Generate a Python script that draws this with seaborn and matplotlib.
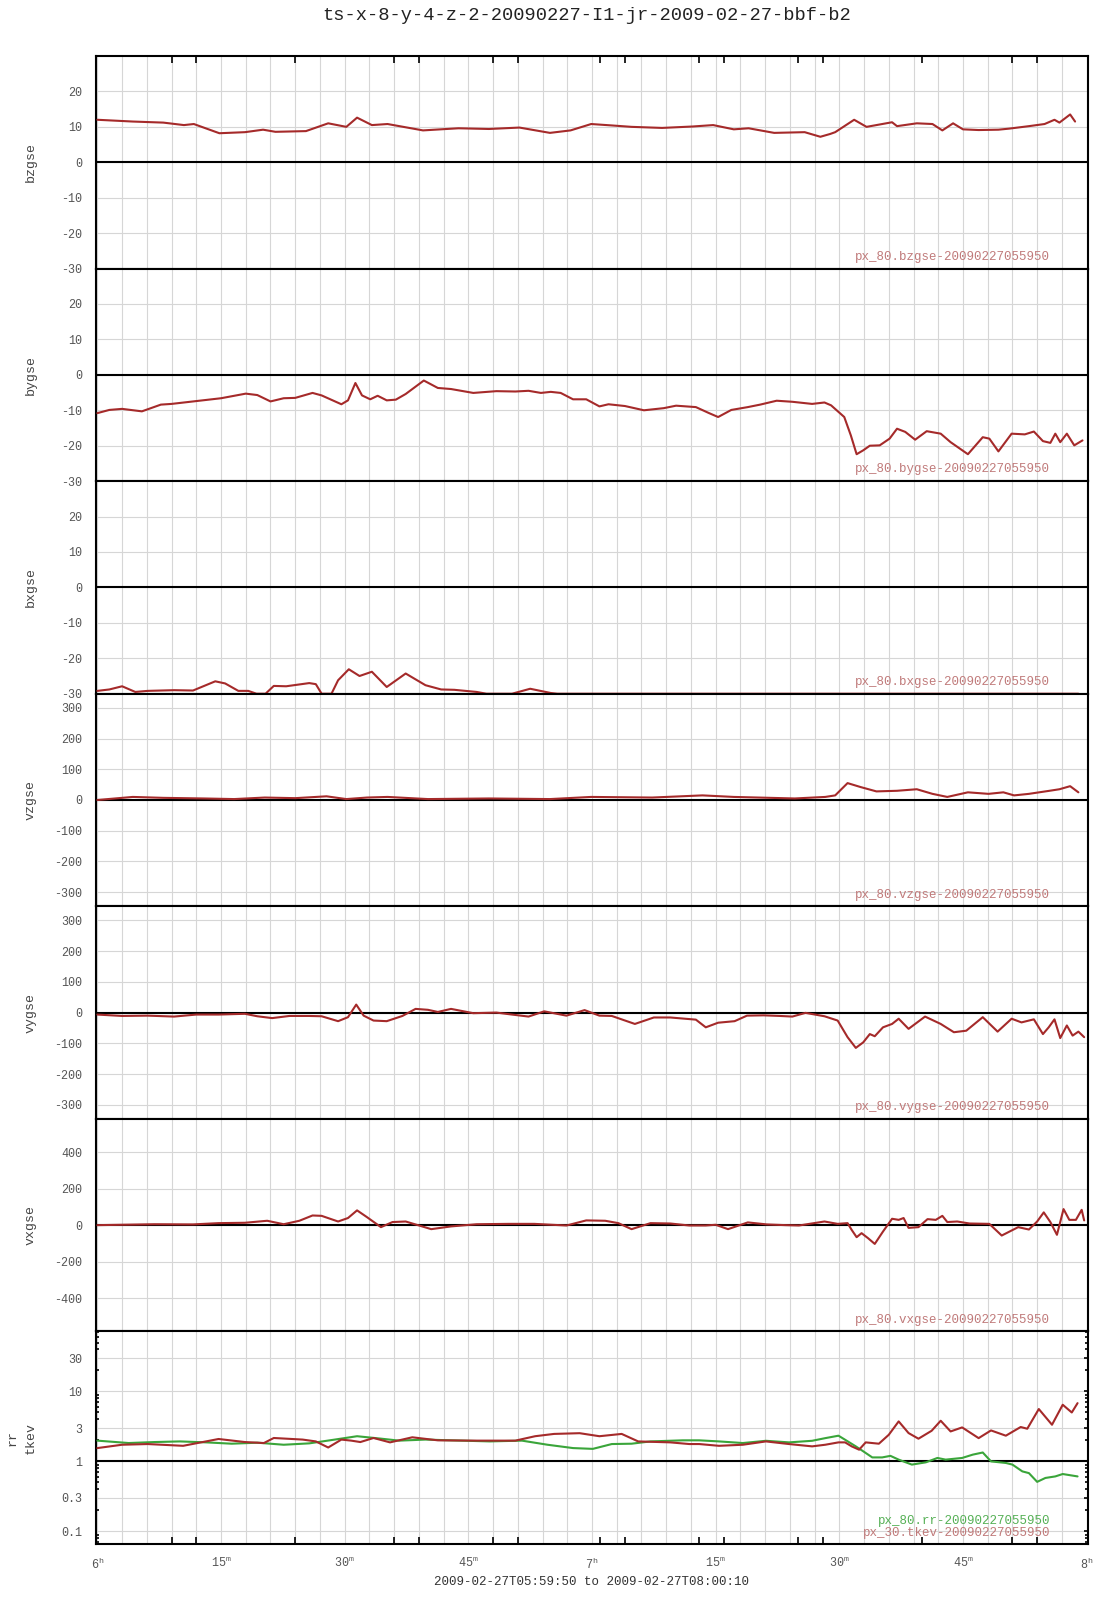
import numpy as np
import pandas as pd
import matplotlib
matplotlib.use('Agg')
import matplotlib.pyplot as plt
import seaborn as sns
from matplotlib.ticker import FixedLocator, FuncFormatter, LogLocator, NullFormatter

# ---------------- data (minutes after 06:00) ----------------
title = "ts-x-8-y-4-z-2-20090227-I1-jr-2009-02-27-bbf-b2"
xlabel = "2009-02-27T05:59:50 to 2009-02-27T08:00:10"

bz_t = [0, 4.3, 8.0, 10.5, 11.7, 14.8, 17.9, 20.1, 21.6, 25.3, 28.0, 30.2, 31.5, 33.3, 35.2, 39.5, 43.8,
        47.5, 51.2, 54.9, 57.4, 59.9, 62.4, 64.8, 68.5, 72.2, 74.7, 77.2, 79.0, 82.1, 85.8, 87.7, 88.9,
        89.5, 91.8, 93.3, 96.4, 97.0, 99.4, 101.3, 102.5, 103.8, 105.0, 106.9, 109.3, 110.6, 113.0,
        114.9, 116.1, 116.7, 118.0, 118.6]
bz_v = [12, 11.5, 11.2, 10.5, 10.8, 8.2, 8.5, 9.2, 8.6, 8.8, 11, 10, 12.6, 10.5, 10.8, 9, 9.6, 9.4, 9.8,
        8.3, 9, 10.8, 10.4, 10, 9.7, 10.1, 10.5, 9.3, 9.6, 8.3, 8.5, 7.2, 8, 8.5, 12, 10, 11.3, 10.2, 11,
        10.8, 9, 11, 9.3, 9.1, 9.2, 9.5, 10.2, 10.8, 12, 11.2, 13.5, 11.5]

by_t = [0, 1.45, 3.0, 5.4, 7.7, 9.0, 12.0, 15.0, 18.0, 19.4, 21.0, 22.6, 24.0, 26.1, 27.2, 29.6, 30.4,
        31.3, 32.1, 33.1, 34.0, 35.1, 36.2, 37.4, 39.6, 41.3, 42.9, 45.6, 48.4, 50.7, 52.3, 53.8, 55.0,
        56.2, 57.7, 59.3, 60.9, 62.0, 64.0, 66.3, 68.7, 70.2, 72.6, 74.2, 75.3, 76.9, 78.9, 80.4, 82.4,
        84.3, 86.7, 88.2, 89.0, 90.6, 91.4, 92.1, 92.9, 93.7, 94.9, 96.1, 97.0, 98.0, 99.2, 100.6, 102.3,
        103.5, 105.6, 107.4, 108.2, 109.3, 110.9, 112.5, 113.6, 114.7, 115.6, 116.2, 116.8, 117.6, 118.5,
        119.5]
by_v = [-10.8, -9.9, -9.6, -10.3, -8.4, -8.2, -7.4, -6.6, -5.3, -5.7, -7.5, -6.6, -6.5, -5.1, -5.8, -8.3,
        -7.2, -2.3, -5.8, -6.9, -5.9, -7.2, -7.0, -5.4, -1.6, -3.7, -4.0, -5.1, -4.6, -4.7, -4.5, -5.1,
        -4.8, -5.1, -6.9, -6.9, -8.9, -8.3, -8.8, -10.0, -9.4, -8.7, -9.1, -10.8, -11.9, -9.9, -9.1, -8.4,
        -7.3, -7.6, -8.2, -7.8, -8.6, -11.9, -17.1, -22.4, -21.3, -20.0, -19.9, -18.0, -15.2, -16.1,
        -18.3, -15.9, -16.6, -19.0, -22.4, -17.6, -18.0, -21.6, -16.6, -16.8, -16.0, -18.7, -19.2,
        -16.6, -19.0, -16.6, -19.9, -18.5]

bx_t = [0, 1.45, 3.0, 4.6, 6.1, 9.3, 11.6, 14.3, 15.5, 17.1, 18.3, 19.3, 20.4, 21.4, 22.9, 25.7, 26.5,
        27.2, 28.4, 29.2, 30.5, 31.8, 33.3, 35.1, 37.4, 39.8, 41.7, 43.3, 46.0, 47.2, 50.3, 52.5, 55.0,
        55.8, 119.0]
bx_v = [-29.2, -28.8, -27.9, -29.5, -29.2, -29.0, -29.1, -26.5, -27.1, -29.2, -29.2, -30, -30, -27.8,
        -27.9, -27.0, -27.3, -30, -30, -26.2, -23.1, -25.0, -23.8, -28.1, -24.3, -27.6, -28.8, -28.9,
        -29.5, -30, -30, -28.6, -29.8, -30, -30]

vz_t = [0, 4.3, 8.0, 12.9, 16.6, 20.3, 24.0, 27.8, 30.2, 32.7, 35.2, 40.1, 47.5, 54.9, 59.9, 67.3, 73.4,
        77.2, 84.6, 88.3, 89.5, 91.0, 92.6, 94.5, 97.0, 99.4, 101.3, 103.1, 105.6, 108.1, 109.9, 111.2,
        113.0, 115.5, 116.7, 118.0, 119.0]
vz_v = [0, 10, 7, 5, 3, 8, 6, 12, 3, 8, 10, 3, 5, 3, 10, 8, 15, 10, 5, 10, 15, 55, 42, 28, 30, 35, 20,
        10, 25, 20, 25, 15, 20, 30, 35, 45, 25]

vy_t = [0, 3.0, 6.1, 9.3, 12.0, 14.7, 17.9, 19.4, 21.2, 23.3, 25.7, 27.2, 29.2, 30.4, 31.4, 32.3, 33.5,
        35.1, 37.0, 38.6, 40.1, 41.3, 42.9, 45.6, 48.4, 50.3, 52.3, 54.2, 56.9, 59.1, 60.9, 62.4, 65.2,
        67.5, 69.5, 72.6, 73.8, 75.3, 77.3, 78.8, 80.8, 82.8, 84.3, 85.9, 88.2, 89.8, 91.0, 92.0, 92.9,
        93.7, 94.3, 95.3, 96.4, 97.2, 98.4, 100.4, 102.3, 103.9, 105.4, 107.4, 109.2, 110.9, 112.1,
        113.6, 114.7, 115.4, 116.1, 116.8, 117.6, 118.3, 119.0, 119.7]
vy_v = [-6.5, -11, -10, -13, -6.5, -6.5, -4, -12, -18, -11, -11, -12, -28, -15, 26, -10, -26, -28, -11,
        12, 9, 2, 12, -2, 0, -6.5, -13, 4, -10, 8, -10, -11, -37, -16, -16, -23, -48, -33, -28, -10, -9,
        -11, -13, -1, -12, -26, -80, -115, -97, -70, -77, -48, -37, -20, -53, -13, -37, -64, -59, -15,
        -62, -20, -32, -22, -70, -48, -22, -83, -42, -75, -62, -80]

vx_t = [0, 6.9, 11.6, 14.7, 17.9, 20.6, 22.6, 24.5, 26.1, 27.2, 29.2, 30.4, 31.5, 32.7, 34.4, 35.8, 37.4,
        40.5, 42.9, 46.0, 49.9, 53.0, 56.9, 59.3, 61.6, 63.2, 64.8, 67.1, 69.5, 71.8, 73.8, 75.0, 76.5,
        78.9, 81.2, 83.5, 85.1, 88.2, 89.8, 91.0, 91.5, 92.1, 92.7, 93.5, 94.3, 95.3, 96.4, 97.2, 97.8,
        98.4, 99.6, 100.7, 101.7, 102.5, 103.1, 104.3, 105.8, 108.2, 109.7, 111.7, 113.0, 114.0, 114.8,
        115.6, 116.4, 117.2, 117.9, 118.7, 119.4, 119.7]
vx_v = [0, 5, 4, 11, 13, 24, 5, 24, 53, 51, 20, 39, 81, 44, -11, 17, 20, -22, -7, 5, 7, 7, -2, 26, 24,
        11, -22, 11, 9, -2, -2, 2, -22, 15, 4, 0, -2, 20, 7, 11, -26, -66, -44, -72, -103, -35, 35, 29,
        39, -15, -11, 33, 29, 51, 17, 20, 9, 7, -57, -11, -24, 20, 70, 17, -53, 88, 29, 29, 84, 26]

tk_t = [0, 3.0, 6.1, 10.4, 14.7, 17.9, 20.2, 21.4, 24.9, 26.5, 28.0, 29.6, 30.8, 31.9, 33.5, 35.5, 38.2,
        41.3, 46.0, 50.7, 53.1, 55.4, 58.5, 60.9, 63.6, 65.6, 69.5, 71.8, 73.0, 75.4, 78.3, 81.1, 83.9,
        86.7, 88.3, 89.9, 90.7, 91.5, 92.4, 93.2, 94.8, 96.0, 97.2, 98.4, 99.6, 101.2, 102.3, 103.5,
        104.9, 106.9, 108.4, 110.2, 112.0, 112.8, 114.2, 115.8, 117.1, 118.2, 118.9]
tk_v = [1.55, 1.73, 1.77, 1.67, 2.09, 1.89, 1.83, 2.16, 2.05, 1.93, 1.58, 2.05, 1.98, 1.89, 2.16, 1.87,
        2.21, 2.0, 1.98, 1.98, 2.29, 2.47, 2.53, 2.29, 2.47, 1.93, 1.87, 1.77, 1.77, 1.67, 1.73, 1.93,
        1.77, 1.64, 1.73, 1.87, 1.87, 1.64, 1.47, 1.87, 1.79, 2.4, 3.73, 2.54, 2.11, 2.74, 3.81, 2.68,
        3.06, 2.15, 2.77, 2.33, 3.1, 2.93, 5.6, 3.34, 6.45, 5.0, 6.8]

rr_t = [0, 3.8, 6.9, 10.0, 13.2, 16.3, 19.4, 22.6, 25.7, 28.8, 31.5, 34.3, 36.6, 39.8, 42.9, 47.6, 51.5,
        54.6, 57.7, 60.1, 62.4, 64.8, 67.1, 71.0, 73.0, 75.4, 78.3, 81.1, 83.9, 86.7, 88.3, 89.9, 90.7,
        92.0, 92.8, 94.0, 95.2, 96.2, 97.2, 98.8, 100.5, 101.9, 102.9, 104.9, 106.2, 107.4, 108.4, 110.2,
        111.0, 112.2, 113.0, 114.0, 115.0, 116.2, 117.1, 118.9]
rr_v = [1.98, 1.83, 1.89, 1.93, 1.87, 1.79, 1.85, 1.73, 1.81, 2.05, 2.29, 2.12, 1.98, 2.05, 2.0, 1.93,
        1.98, 1.73, 1.55, 1.51, 1.77, 1.79, 1.93, 2.0, 2.0, 1.93, 1.83, 1.97, 1.87, 1.97, 2.15, 2.33, 2.04,
        1.64, 1.42, 1.14, 1.14, 1.2, 1.06, 0.9, 0.97, 1.12, 1.06, 1.12, 1.25, 1.34, 1.0, 0.95, 0.9, 0.72,
        0.68, 0.51, 0.58, 0.61, 0.66, 0.61]

panel_names = ["bzgse", "bygse", "bxgse", "vzgse", "vygse", "vxgse"]
panel_labels = ["px_80.bzgse-20090227055950", "px_80.bygse-20090227055950",
                "px_80.bxgse-20090227055950", "px_80.vzgse-20090227055950",
                "px_80.vygse-20090227055950", "px_80.vxgse-20090227055950"]
rr_label = "px_80.rr-20090227055950"
tk_label = "px_30.tkev-20090227055950"

b_ticks = [-30, -20, -10, 0, 10, 20]
v_ticks = [-300, -200, -100, 0, 100, 200, 300]
vx_ticks = [-400, -200, 0, 200, 400]
log_ticks = [0.1, 0.3, 1, 3, 10, 30]
log_ticklabels = ["0.1", "0.3", "1", "3", "10", "30"]

hour_labels = {0: "6^{h}", 60: "7^{h}", 120: "8^{h}"}
minute_marks = [9, 12, 24, 36, 39, 48, 51, 61, 64, 73, 76, 85, 88, 100, 111, 114]

# ---------------- style ----------------
sns.set_style("white")
plt.rcParams['font.family'] = ['Liberation Mono', 'DejaVu Sans']
plt.rcParams['mathtext.fontset'] = 'custom'
plt.rcParams['mathtext.rm'] = 'Liberation Mono'
plt.rcParams['mathtext.it'] = 'Liberation Mono'

RED = '#a52a2a'
GREEN = '#3aa53a'
GRID = '#d6d6d6'
TXT = '#555555'

W, H = 1107, 1600
L, R, T, B = 96, 1088, 56, 1544
fig = plt.figure(figsize=(W / 100, H / 100), dpi=100)
gs = fig.add_gridspec(7, 1, left=L / W, right=R / W, top=1 - T / H, bottom=1 - B / H, hspace=0)
axes = [fig.add_subplot(gs[i]) for i in range(7)]
ph = (B - T) / 7.0

def fmt_x(v, pos):
    m = int(round(v))
    if m % 15 != 0:
        return ""
    if m in hour_labels:
        s = hour_labels[m]
    else:
        s = "%d^{m}" % (m % 60)
    return r"$\mathregular{" + s + "}$"

series = [(bz_t, bz_v), (by_t, by_v), (bx_t, bx_v), (vz_t, vz_v), (vy_t, vy_v), (vx_t, vx_v)]
ylims = [(-30, 30), (-30, 30), (-30, 30), (-346, 346), (-346, 346), (-583, 583)]
yticks = [b_ticks, b_ticks, b_ticks, v_ticks, v_ticks, vx_ticks]

for i, ax in enumerate(axes):
    ax.set_xlim(-10 / 60, 120 + 10 / 60)
    ax.xaxis.remove_overlapping_locs = False
    ax.xaxis.set_major_locator(FixedLocator(np.arange(0, 121, 3)))
    ax.xaxis.set_minor_locator(FixedLocator(minute_marks))
    ax.grid(True, which='major', color=GRID, lw=0.8, zorder=0)
    ax.set_axisbelow(True)
    for s in ax.spines.values():
        s.set_color('black')
        s.set_linewidth(1.5)
    ax.tick_params(axis='x', which='major', length=0, labelsize=8.5, labelcolor=TXT, pad=9)
    ax.tick_params(axis='x', which='minor', direction='in', length=5, width=1.2, color='black',
                   top=(i == 0), bottom=(i == 6))
    ax.tick_params(axis='y', which='major', direction='in', length=3, width=1.2, color='black',
                   labelsize=8.5, labelcolor=TXT, pad=10)
    if i == 6:
        ax.xaxis.set_major_formatter(FuncFormatter(fmt_x))
    else:
        ax.xaxis.set_major_formatter(FuncFormatter(lambda v, p: ""))

# linear panels
for i in range(6):
    ax = axes[i]
    t, v = series[i]
    df = pd.DataFrame({"t": t, "v": v})
    sns.lineplot(data=df, x="t", y="v", ax=ax, color=RED, lw=1.5, estimator=None, sort=False, zorder=3)
    ax.set_ylim(*ylims[i])
    ax.set_yticks(yticks[i])
    ax.set_yticklabels([str(k) for k in yticks[i]])
    ax.axhline(0, color='black', lw=1.5, zorder=2.6)
    ax.set_xlabel("")
    ax.set_ylabel("")
    ax.text(0.962, 0.055, panel_labels[i], transform=ax.transAxes, ha='right', va='center',
            fontsize=9, color='#c07a7a')
    cy = 1 - (T + ph * i + ph / 2) / H
    fig.text(30.6 / W, cy, panel_names[i], rotation=90, ha='center', va='center', fontsize=9.5,
             color='#444444')

# log panel
ax = axes[6]
ax.set_yscale('log')
df_rr = pd.DataFrame({"t": rr_t, "v": rr_v})
df_tk = pd.DataFrame({"t": tk_t, "v": tk_v})
sns.lineplot(data=df_rr, x="t", y="v", ax=ax, color=GREEN, lw=1.5, estimator=None, sort=False, zorder=3)
sns.lineplot(data=df_tk, x="t", y="v", ax=ax, color=RED, lw=1.5, estimator=None, sort=False, zorder=3)
ax.set_ylim(0.066, 72)
ax.yaxis.set_major_locator(FixedLocator(log_ticks))
ax.set_yticklabels(log_ticklabels)
ax.yaxis.set_minor_locator(LogLocator(base=10, subs=np.arange(2, 10)))
ax.yaxis.set_minor_formatter(NullFormatter())
ax.tick_params(axis='y', which='minor', direction='in', length=2.5, width=1.2, color='black',
               left=True, right=True)
ax.tick_params(axis='y', which='major', right=True)
ax.grid(True, which='major', axis='y', color=GRID, lw=0.8)
ax.axhline(1, color='black', lw=1.5, zorder=2.6)
ax.set_xlabel("")
ax.set_ylabel("")
ax.text(0.962, 0.11, rr_label, transform=ax.transAxes, ha='right', va='center', fontsize=9,
        color='#55b055')
ax.text(0.962, 0.053, tk_label, transform=ax.transAxes, ha='right', va='center', fontsize=9,
        color='#c07a7a')
cy = 1 - (T + ph * 6 + ph / 2) / H
fig.text(12.2 / W, cy, "rr", rotation=90, ha='center', va='center', fontsize=9.5, color='#444444')
fig.text(30.6 / W, cy, "tkev", rotation=90, ha='center', va='center', fontsize=9.5, color='#444444')

fig.text(586.7 / W, 1 - 15.3 / H, title, ha='center', va='center', fontsize=13.5, color='#222222')
fig.text(592 / W, 1 - 1582 / H, xlabel, ha='center', va='center', fontsize=9, color='#333333')

fig.savefig("out.png", dpi=100)
